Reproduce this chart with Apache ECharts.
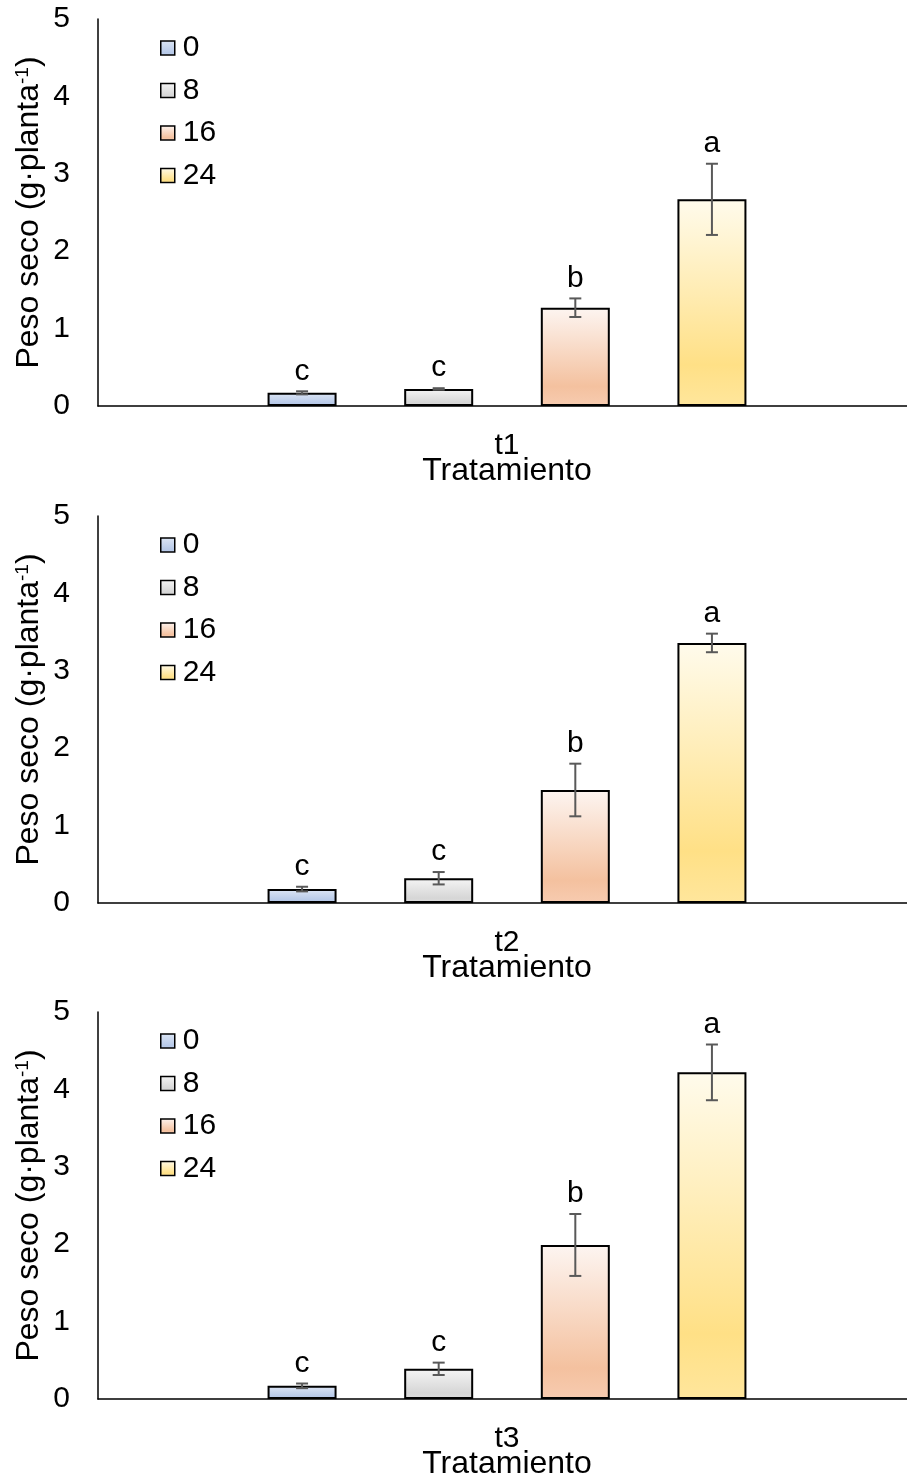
<!DOCTYPE html>
<html>
<head>
<meta charset="utf-8">
<script src="https://cdn.jsdelivr.net/npm/echarts@6/dist/echarts.min.js"></script>
<style>
  html, body { margin: 0; padding: 0; background: #fff; }
  #chart { width: 907px; height: 1477px; }
</style>
</head>
<body>
<div id="chart"></div>
<script>
// Dry weight per plant, by treatment period and dose
const tratamientos = ['t1', 't2', 't3'];
const dosis = ['0', '8', '16', '24'];

const pesoT1 = [0.17, 0.22, 1.27, 2.67];
const errT1 = [0.02, 0.01, 0.12, 0.46];
const letrasT1 = ['c', 'c', 'b', 'a'];

const pesoT2 = [0.18, 0.32, 1.46, 3.36];
const errT2 = [0.03, 0.08, 0.34, 0.12];
const letrasT2 = ['c', 'c', 'b', 'a'];

const pesoT3 = [0.17, 0.39, 1.99, 4.22];
const errT3 = [0.03, 0.08, 0.40, 0.36];
const letrasT3 = ['c', 'c', 'b', 'a'];

const yTicks = { min: 0, max: 5, interval: 1 };

const paneles = [
  { peso: pesoT1, err: errT1, letras: letrasT1 },
  { peso: pesoT2, err: errT2, letras: letrasT2 },
  { peso: pesoT3, err: errT3, letras: letrasT3 }
];

const FONT = '"Liberation Sans", Arial, sans-serif';
const BAR_W = 69;
const BAR_GAP = 0.98;
const GRID_TOPS = [19, 516, 1012];
const GRID_H = 387;

// Excel-style vertical gradient fills, one per dose
function grad(top, mid, bottom) {
  return new echarts.graphic.LinearGradient(0, 0, 0, 1, [
    { offset: 0, color: top },
    { offset: 0.8, color: mid },
    { offset: 1, color: bottom }
  ]);
}
const fills = [
  grad('#dde6f5', '#b7c9e8', '#bccdea'),
  grad('#f5f5f5', '#d6d6d6', '#dcdcdc'),
  grad('#fdf5f1', '#f4c19f', '#f7cbb0'),
  grad('#fffbec', '#ffe086', '#ffe69c')
];

const grids = [], xAxes = [], yAxes = [], legends = [], series = [];

paneles.forEach((p, g) => {
  grids.push({ left: 98, width: 818, top: GRID_TOPS[g], height: GRID_H, outerBoundsMode: 'none' });
  xAxes.push({
    gridIndex: g,
    type: 'category',
    data: [tratamientos[g]],
    axisLine: { lineStyle: { color: '#000', width: 1.5 } },
    axisTick: { show: false },
    axisLabel: { color: '#000', fontSize: 30, fontFamily: FONT, margin: 25 },
    name: 'Tratamiento',
    nameLocation: 'middle',
    nameMoveOverlap: false,
    nameGap: 49,
    nameTextStyle: { color: '#000', fontSize: 32, fontFamily: FONT }
  });
  yAxes.push({
    gridIndex: g,
    type: 'value',
    min: yTicks.min, max: yTicks.max, interval: yTicks.interval,
    splitLine: { show: false },
    axisLine: { show: true, lineStyle: { color: '#000', width: 1.5 } },
    axisTick: { show: false },
    axisLabel: { color: '#000', fontSize: 30, fontFamily: FONT, margin: 28 },
    name: 'Peso seco (g·planta{sup|-1})',
    nameLocation: 'middle',
    nameMoveOverlap: false,
    nameRotate: 90,
    nameGap: 52,
    nameTextStyle: {
      color: '#000', fontSize: 32, fontFamily: FONT,
      rich: { sup: { fontSize: 19, fontFamily: FONT, color: '#000', verticalAlign: 'top', padding: [0, 0, 14, 0] } }
    }
  });
  legends.push({
    data: dosis,
    orient: 'vertical',
    left: 155,
    top: GRID_TOPS[g] + 9,
    icon: 'rect',
    itemWidth: 14,
    itemHeight: 14,
    itemGap: 12.5,
    itemStyle: { borderColor: '#000', borderWidth: 1.5 },
    textStyle: { color: '#000', fontSize: 30, fontFamily: FONT, lineHeight: 30, padding: [0, 0, 0, 3] }
  });

  dosis.forEach((d, i) => {
    series.push({
      name: d,
      type: 'bar',
      xAxisIndex: g, yAxisIndex: g,
      barWidth: BAR_W,
      barGap: (BAR_GAP * 100) + '%',
      data: [p.peso[i]],
      itemStyle: { color: fills[i], borderColor: '#000', borderWidth: 2 },
      emphasis: { disabled: true }
    });
  });

  // error bars and significance letters
  series.push({
    type: 'custom',
    xAxisIndex: g, yAxisIndex: g,
    z: 10,
    silent: true,
    data: p.peso.map((v, i) => [0, v, p.err[i], i]),
    encode: { x: 0, y: 1 },
    renderItem: (params, api) => {
      const mean = api.value(1), e = api.value(2), i = api.value(3);
      const step = BAR_W * (1 + BAR_GAP);
      const c = api.coord([0, mean]);
      const x = c[0] + (i - 1.5) * step;
      const yHi = api.coord([0, mean + e])[1];
      const yLo = api.coord([0, mean - e])[1];
      const cap = 6;
      const ls = { stroke: '#595959', lineWidth: 2 };
      return {
        type: 'group',
        children: [
          { type: 'line', shape: { x1: x, y1: yHi, x2: x, y2: yLo }, style: ls },
          { type: 'line', shape: { x1: x - cap, y1: yHi, x2: x + cap, y2: yHi }, style: ls },
          { type: 'line', shape: { x1: x - cap, y1: yLo, x2: x + cap, y2: yLo }, style: ls },
          {
            type: 'text',
            style: {
              text: p.letras[i], x: x, y: yHi - 5,
              align: 'center', verticalAlign: 'bottom',
              fill: '#000', fontSize: 30, fontFamily: FONT
            }
          }
        ]
      };
    }
  });
});

const chart = echarts.init(document.getElementById('chart'), null, { renderer: 'canvas' });
chart.setOption({
  animation: false,
  backgroundColor: '#fff',
  grid: grids,
  xAxis: xAxes,
  yAxis: yAxes,
  legend: legends,
  series: series
});
</script>
</body>
</html>
